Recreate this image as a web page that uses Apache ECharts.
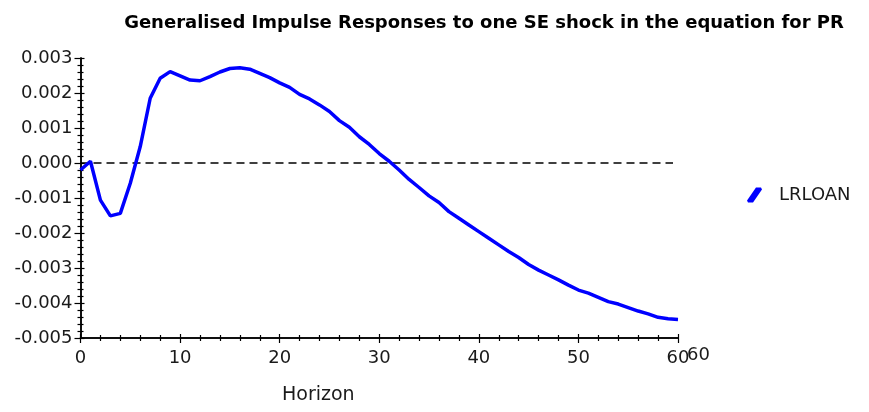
<!DOCTYPE html>
<html>
<head>
<meta charset="utf-8">
<script src="https://cdn.jsdelivr.net/npm/echarts@6/dist/echarts.min.js"></script>
<style>
  html, body { margin: 0; padding: 0; background: #fff; }
  #chart { width: 869px; height: 412px; }
</style>
</head>
<body>
<div id="chart"></div>
<script>
// horizon 0..60 and the generalised impulse response of LRLOAN
const horizon = Array.from({ length: 61 }, (_, i) => i)
const lrloan = [
  -0.00020, 0.00005, -0.00106, -0.00151, -0.00144, -0.00058, 0.00047, 0.00185, 0.00242, 0.00261,
  0.00249, 0.00237, 0.00235, 0.00247, 0.00260, 0.00270, 0.00272, 0.00268, 0.00256, 0.00244,
  0.00229, 0.00216, 0.00196, 0.00183, 0.00166, 0.00147, 0.00121, 0.00102, 0.00075, 0.00053,
  0.00027, 0.00005, -0.00020, -0.00047, -0.00070, -0.00094, -0.00113, -0.00139, -0.00158, -0.00177,
  -0.00196, -0.00215, -0.00234, -0.00253, -0.00270, -0.00290, -0.00306, -0.00320, -0.00334, -0.00349,
  -0.00363, -0.00372, -0.00384, -0.00396, -0.00403, -0.00413, -0.00423, -0.00431, -0.00441, -0.00445,
  -0.00447
]
const zeroLine = [[0, 0], [59.5, 0]]
const xTicks = { min: 0, max: 60, interval: 10 }
const yTicks = { min: -0.005, max: 0.003, interval: 0.001 }

const font = 'DejaVu Sans, Arial, sans-serif'
const axisColor = '#000'
const textColor = '#1a1a1a'

const chart = echarts.init(document.getElementById('chart'))

function xAxisDef(inside, showLabel) {
  return {
    type: 'value', min: xTicks.min, max: xTicks.max, interval: xTicks.interval,
    position: 'bottom',
    axisLine: { show: true, onZero: false, lineStyle: { color: axisColor, width: 1.5 } },
    axisTick: { show: true, inside: inside, length: inside ? 4 : 5, lineStyle: { color: axisColor, width: 1.2 } },
    minorTick: { show: true, splitNumber: 5, length: 3, lineStyle: { color: axisColor, width: 1.2 } },
    splitLine: { show: false },
    axisLabel: { show: showLabel, color: textColor, fontSize: 18, fontFamily: font, margin: 11,
      formatter: v => String(v) }
  }
}
function yAxisDef(inside, showLabel) {
  return {
    type: 'value', min: yTicks.min, max: yTicks.max, interval: yTicks.interval,
    position: 'left',
    axisLine: { show: true, onZero: false, lineStyle: { color: axisColor, width: 1.5 } },
    axisTick: { show: true, inside: inside, length: inside ? 4 : 6, lineStyle: { color: axisColor, width: 1.2 } },
    minorTick: { show: true, splitNumber: 5, length: 3, lineStyle: { color: axisColor, width: 1.2 } },
    splitLine: { show: false },
    axisLabel: { show: showLabel, color: textColor, fontSize: 18, fontFamily: font, margin: 8,
      formatter: v => v.toFixed(3) }
  }
}

const option = {
  animation: false,
  title: {
    text: 'Generalised Impulse Responses to one SE shock in the equation for PR',
    left: 479, top: 9, textAlign: 'center',
    textStyle: { fontSize: 18, fontWeight: 'bold', color: '#000', fontFamily: font }
  },
  legend: {
    data: [{ name: 'LRLOAN', icon: 'path://M0,13 L1,15 L6,15 L15,2 L14,0 L9,0 Z' }],
    left: 742, top: 181, itemWidth: 15, itemHeight: 16, itemGap: 8,
    itemStyle: { borderWidth: 0 },
    textStyle: { fontSize: 18, color: textColor, fontFamily: font, padding: [0, 0, 0, 12] }
  },
  grid: { left: 80.5, right: 191, top: 58, bottom: 74 },
  xAxis: [xAxisDef(false, true), xAxisDef(true, false)],
  yAxis: [yAxisDef(false, true), yAxisDef(true, false)],
  graphic: [
    { type: 'text', left: 282, top: 386, style: { text: 'Horizon', fill: textColor, font: '19px ' + font } },
    { type: 'text', left: 687, top: 346, style: { text: '60', fill: textColor, font: '18px ' + font } }
  ],
  series: [
    {
      name: 'zero', type: 'line', data: zeroLine, symbol: 'none', silent: true,
      lineStyle: { color: '#000', width: 1.3, type: [8, 5] }
    },
    {
      name: 'LRLOAN', type: 'line', symbol: 'none', smooth: false,
      data: horizon.map((h, i) => [h, lrloan[i]]),
      lineStyle: { color: '#0000ff', width: 3.5 },
      itemStyle: { color: '#0000ff' }
    }
  ]
}
chart.setOption(option)
</script>
</body>
</html>
